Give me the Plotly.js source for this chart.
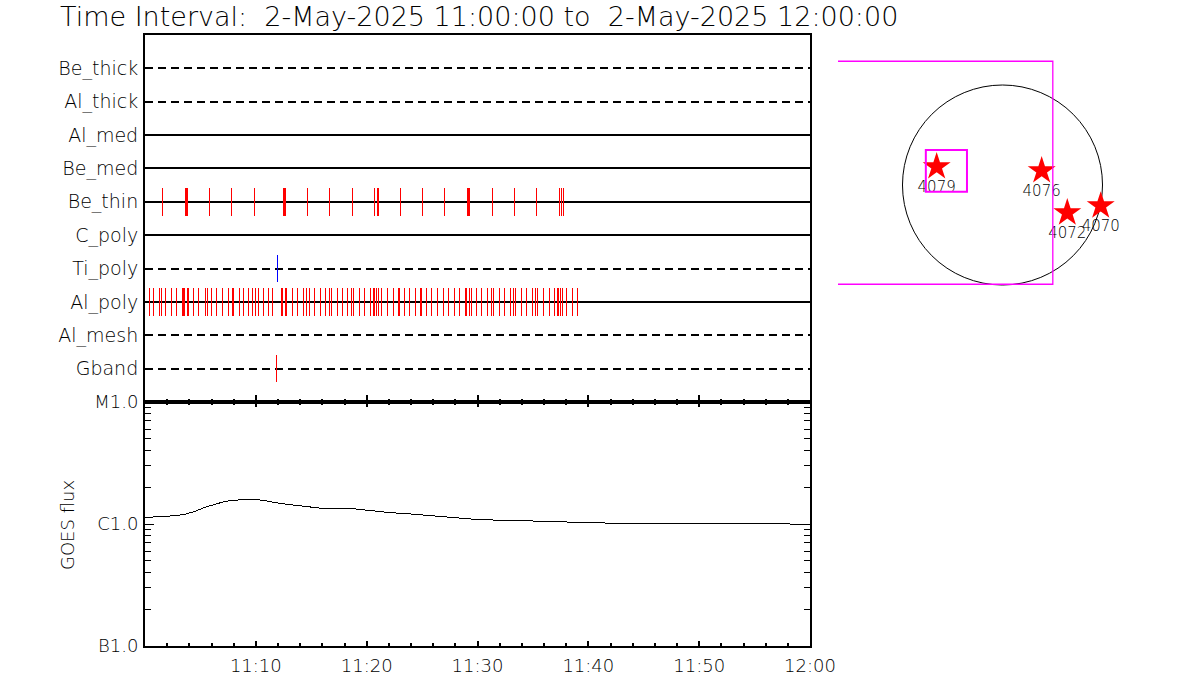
<!DOCTYPE html>
<html>
<head>
<meta charset="utf-8">
<script src="https://cdn.plot.ly/plotly-3.0.1.min.js"></script>
<style>
  html, body { margin: 0; padding: 0; background: #fff; }
  #chart { width: 1200px; height: 700px; }
  .js-line { shape-rendering: crispEdges; }
</style>
</head>
<body>
<div id="chart"></div>
<script>
// ---------------- DATA ----------------
// Filter rows, bottom (1) to top (10)
const rowNames = ['Gband', 'Al_mesh', 'Al_poly', 'Ti_poly', 'C_poly', 'Be_thin', 'Be_med', 'Al_med', 'Al_thick', 'Be_thick'];
const rowDashed = [true, true, false, true, false, false, false, false, true, true];

// Exposure times (minutes after 11:00 UT)
const beThinTimes = [1.56, 3.61, 3.70, 3.79, 5.80, 7.79, 9.86, 12.48, 12.57, 12.66, 14.64, 16.63, 18.70,
  20.72, 20.95, 21.04, 23.03, 25.01, 27.00, 29.07, 29.16, 29.32, 31.33, 33.31, 35.30, 37.37, 37.55, 37.73];
const alPolyTimes = [0.39, 0.81, 1.29, 1.47, 1.83, 2.37, 2.80, 3.37, 3.46, 3.55, 3.82, 3.91, 4.42, 4.85,
  5.44, 5.68, 5.98, 6.47, 6.95, 7.49, 7.85, 7.97, 8.51, 8.93, 9.36, 9.72, 9.95, 10.26, 10.67, 11.10,
  11.46, 12.33, 12.42, 12.70, 12.79, 13.29, 13.74, 14.28, 14.55, 14.82, 15.28, 15.82, 16.27, 16.63,
  16.81, 17.35, 17.80, 18.25, 18.61, 18.79, 19.34, 19.79, 20.33, 20.60, 20.69, 20.87, 21.05, 21.32,
  21.86, 22.40, 22.86, 22.95, 23.40, 23.85, 24.39, 24.84, 24.93, 25.38, 25.83, 26.37, 26.92, 27.37,
  27.91, 28.36, 28.90, 29.03, 29.26, 29.44, 29.89, 30.34, 30.89, 31.25, 31.43, 31.97, 32.42, 32.96,
  33.23, 33.41, 33.95, 34.40, 34.94, 35.22, 35.40, 35.94, 36.48, 36.93, 37.20, 37.33, 37.47, 37.65,
  38.01, 38.55, 39.01];
const tiPolyTimes = [11.94];
const gbandTimes = [11.85];

// GOES flux (minutes after 11:00, W/m^2)
const goesMinutes = [0, 1.5, 2.7, 3.6, 4.5, 5.4, 6.3, 7.2, 8.1, 9.0, 9.9, 10.8, 11.7, 13.1, 14.4, 15.8,
  17.6, 18.9, 20.3, 22.1, 23.9, 25.7, 27.5, 29.3, 31.1, 33.8, 36.5, 39.2, 41.0, 45.5, 50.1, 54.6, 57.3, 59.1, 60];
const goesFlux = [1.13e-6, 1.15e-6, 1.17e-6, 1.20e-6, 1.27e-6, 1.37e-6, 1.44e-6, 1.53e-6, 1.57e-6, 1.59e-6,
  1.59e-6, 1.56e-6, 1.50e-6, 1.44e-6, 1.39e-6, 1.35e-6, 1.34e-6, 1.33e-6, 1.29e-6, 1.24e-6, 1.21e-6,
  1.17e-6, 1.13e-6, 1.10e-6, 1.08e-6, 1.07e-6, 1.05e-6, 1.03e-6, 1.02e-6, 1.01e-6, 1.01e-6, 1.01e-6,
  1.01e-6, 0.99e-6, 1.00e-6];

// Time axis
const timeRange = [0, 60];
const tickMinutes = [0, 10, 20, 30, 40, 50, 60];
const tickLabels = ['', '11:10', '11:20', '11:30', '11:40', '11:50', '12:00'];

// GOES class axis
const goesTickVals = [1e-7, 1e-6, 1e-5];
const goesTickText = ['B1.0', 'C1.0', 'M1.0'];

// Solar disk (arcsec)
const solarRadius = 960;
const arNumbers = ['4079', '4076', '4072', '4070'];
const arX = [-632, 376, 622, 943];
const arY = [176, 137, -267, -200];
const fovX = [-1659, 483];
const fovY = [-953, 1188];
const roiX = [-736, -341];
const roiY = [-64, 336];

// ---------------- BUILD ----------------
const W = 1200, H = 700;
const px = v => v / W;
const py = v => 1 - v / H;
const FONT = 'DejaVu Sans, sans-serif';
const halfTick = 0.41;

const traces = [];
// Row baselines
rowNames.forEach((name, i) => {
  const r = i + 1;
  traces.push({
    x: timeRange, y: [r, r], xaxis: 'x', yaxis: 'y', mode: 'lines', hoverinfo: 'skip',
    line: { color: '#000', width: 2, dash: rowDashed[i] ? '8px,5px' : 'solid' }
  });
});
function eventTrace(times, rowName, color) {
  const r = rowNames.indexOf(rowName) + 1;
  const x = [], y = [];
  times.forEach(t => { x.push(t, t, null); y.push(r - halfTick, r + halfTick, null); });
  return { x, y, xaxis: 'x', yaxis: 'y', mode: 'lines', hoverinfo: 'skip',
    line: { color, width: 1 } };
}
traces.push(eventTrace(beThinTimes, 'Be_thin', '#ff0000'));
traces.push(eventTrace(alPolyTimes, 'Al_poly', '#ff0000'));
traces.push(eventTrace(tiPolyTimes, 'Ti_poly', '#0000ff'));
traces.push(eventTrace(gbandTimes, 'Gband', '#ff0000'));

// GOES
traces.push({ x: goesMinutes, y: goesFlux, xaxis: 'x2', yaxis: 'y2', mode: 'lines',
  line: { color: '#000', width: 1 }, hoverinfo: 'skip' });

// Active regions
traces.push({ x: arX, y: arY, xaxis: 'x3', yaxis: 'y3', mode: 'markers+text',
  text: arNumbers, textposition: 'bottom center',
  textfont: { family: FONT, size: 15, color: '#000', weight: 300 },
  marker: { symbol: 'star', size: 21, color: '#ff0000', line: { width: 0 } }, hoverinfo: 'skip', cliponaxis: false });

const minorGoes = [];
[1e-7, 1e-6].forEach(d => { for (let k = 2; k <= 9; k++) minorGoes.push(k * d); });

const sunX0 = 838, sunX1 = 1170, sunY0 = 50, sunY1 = 300, sunCx = 1002.5, sunCy = 185, scale = 9.6;

const layout = {
  width: W, height: H,
  margin: { l: 0, r: 0, t: 0, b: 0 },
  paper_bgcolor: '#fff', plot_bgcolor: '#fff',
  showlegend: false,
  font: { family: FONT, color: '#000', size: 18, weight: 300 },
  title: { text: 'Time Interval:  2-May-2025 11:00:00 to  2-May-2025 12:00:00',
    font: { family: FONT, size: 27, color: '#000', weight: 300 },
    x: px(60), xanchor: 'left', xref: 'container', y: py(17), yanchor: 'middle', yref: 'container' },
  xaxis: { domain: [px(145), px(810)], anchor: 'y', range: timeRange, showgrid: false, zeroline: false,
    showline: true, linecolor: '#000', linewidth: 2, mirror: true,
    tickmode: 'array', tickvals: tickMinutes, showticklabels: false,
    ticks: 'inside', ticklen: 7, tickwidth: 2, tickcolor: '#000',
    minor: { tickmode: 'linear', tick0: 0, dtick: 2, ticks: 'inside', ticklen: 3, tickwidth: 2, tickcolor: '#000', showgrid: false } },
  yaxis: { domain: [py(402), py(35)], anchor: 'x', range: [0, 11], showgrid: false, zeroline: false,
    showline: true, linecolor: '#000', linewidth: 2, mirror: true,
    tickmode: 'array', tickvals: rowNames.map((_, i) => i + 1), ticktext: rowNames,
    ticks: '', ticklabelstandoff: 1, tickfont: { family: FONT, size: 19, weight: 300 } },
  xaxis2: { domain: [px(145), px(810)], anchor: 'y2', range: timeRange, showgrid: false, zeroline: false,
    showline: true, linecolor: '#000', linewidth: 2, mirror: 'ticks',
    tickmode: 'array', tickvals: tickMinutes, ticktext: tickLabels,
    ticks: 'inside', ticklen: 5, tickwidth: 2, tickcolor: '#000', ticklabelstandoff: 2,
    tickfont: { family: FONT, size: 18, weight: 300 },
    minor: { tickmode: 'linear', tick0: 0, dtick: 2, ticks: 'inside', ticklen: 3, tickwidth: 2, tickcolor: '#000', showgrid: false } },
  yaxis2: { domain: [py(646), py(402)], anchor: 'x2', type: 'log', range: [-7, -5], showgrid: false, zeroline: false,
    showline: true, linecolor: '#000', linewidth: 2, mirror: 'ticks',
    tickmode: 'array', tickvals: goesTickVals, ticktext: goesTickText,
    ticks: 'inside', ticklen: 9, tickwidth: 1, tickcolor: '#000', ticklabelstandoff: 1,
    tickfont: { family: FONT, size: 18, weight: 300 },
    minor: { tickmode: 'array', tickvals: minorGoes, ticks: 'inside', ticklen: 6, tickwidth: 1, tickcolor: '#000', showgrid: false } },
  xaxis3: { domain: [px(sunX0), px(sunX1)], anchor: 'y3', visible: false,
    range: [(sunX0 - sunCx) * scale, (sunX1 - sunCx) * scale] },
  yaxis3: { domain: [py(sunY1), py(sunY0)], anchor: 'x3', visible: false,
    range: [(sunCy - sunY1) * scale, (sunCy - sunY0) * scale] },
  shapes: [
    { type: 'circle', xref: 'x3', yref: 'y3', x0: -solarRadius, x1: solarRadius, y0: -solarRadius, y1: solarRadius,
      line: { color: '#000', width: 1 }, layer: 'below' },
    { type: 'rect', xref: 'x3', yref: 'y3', x0: fovX[0], x1: fovX[1], y0: fovY[0], y1: fovY[1],
      line: { color: '#ff00ff', width: 1.3 } },
    { type: 'rect', xref: 'x3', yref: 'y3', x0: roiX[0], x1: roiX[1], y0: roiY[0], y1: roiY[1],
      line: { color: '#ff00ff', width: 2 } }
  ],
  annotations: [
    { text: 'GOES flux', xref: 'paper', yref: 'paper', x: px(67), y: py(525), textangle: -90,
      showarrow: false, font: { family: FONT, size: 18, color: '#000', weight: 300 }, xanchor: 'center', yanchor: 'middle' }
  ]
};

Plotly.newPlot('chart', traces, layout, { staticPlot: true, displayModeBar: false });
</script>
</body>
</html>
